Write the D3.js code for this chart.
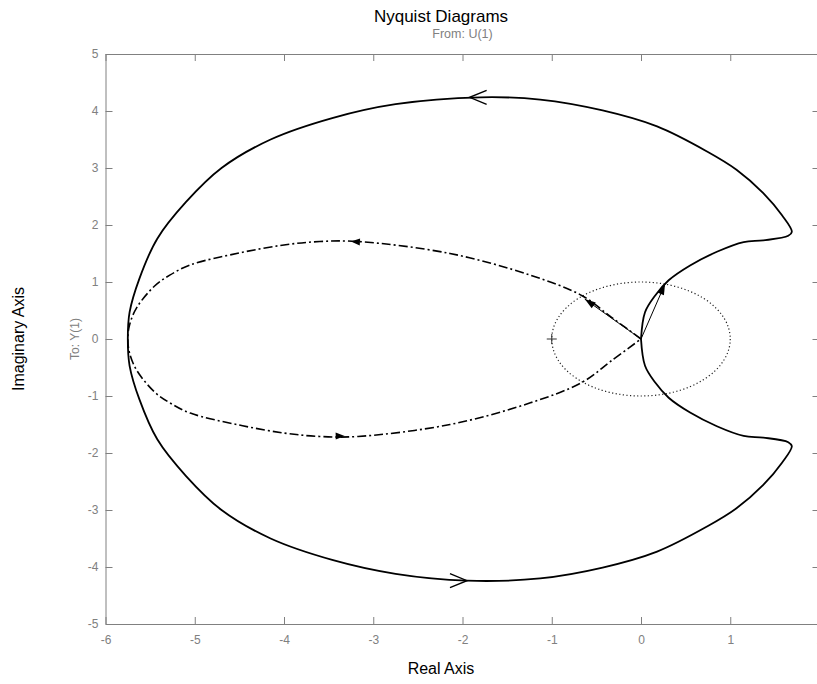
<!DOCTYPE html>
<html><head><meta charset="utf-8">
<script src="https://cdn.jsdelivr.net/npm/d3@7"></script>
<style>body{margin:0;background:#fff} svg{display:block}</style>
</head><body>
<svg id="chart" width="817" height="684"></svg>
<script>
// ---- data ----
const xTicks = [-6,-5,-4,-3,-2,-1,0,1,2];
const yTicks = [-5,-4,-3,-2,-1,0,1,2,3,4,5];
const xDomain = [-6, 2];
const yDomain = [-5, 5];

// solid Nyquist branch, in traversal order
const solidRe = [0, 0.045, 0.157, 0.31, 0.55, 0.85, 1.15, 1.37, 1.65, 1.69, 1.58, 1.37, 1.07, 0.74, 0.18, -0.43, -1.13, -1.80, -2.75, -3.45, -4.15, -4.70, -5.10, -5.42, -5.62, -5.73, -5.75,
                 -5.73, -5.62, -5.42, -5.10, -4.70, -4.15, -3.45, -2.75, -1.95, -1.13, -0.43, 0.18, 0.74, 1.07, 1.37, 1.58, 1.69, 1.65, 1.37, 1.15, 0.85, 0.55, 0.31, 0.157, 0.045, 0];
const solidIm = [0, 0.47, 0.76, 1.03, 1.29, 1.53, 1.70, 1.73, 1.81, 1.88, 2.17, 2.56, 2.97, 3.29, 3.73, 4.01, 4.20, 4.24, 4.12, 3.88, 3.50, 3.00, 2.40, 1.76, 1.06, 0.47, 0,
                 -0.47, -1.06, -1.76, -2.40, -3.00, -3.50, -3.88, -4.12, -4.24, -4.20, -4.01, -3.73, -3.29, -2.97, -2.56, -2.17, -1.88, -1.81, -1.73, -1.70, -1.53, -1.29, -1.03, -0.76, -0.47, 0];

// dash-dot Nyquist branch, in traversal order
const dashRe = [0, -0.33, -0.66, -1.24, -2.14, -3.17, -3.60, -4.00, -4.50, -5.05, -5.28, -5.45, -5.65, -5.73, -5.75,
                -5.73, -5.65, -5.45, -5.28, -5.05, -4.50, -4.00, -3.60, -3.17, -2.14, -1.24, -0.66, -0.33, 0];
const dashIm = [0, 0.38, 0.76, 1.12, 1.50, 1.71, 1.71, 1.65, 1.51, 1.30, 1.12, 0.93, 0.55, 0.25, 0,
                -0.25, -0.55, -0.93, -1.12, -1.30, -1.51, -1.65, -1.71, -1.71, -1.50, -1.12, -0.76, -0.38, 0];

// arrow positions: tip and a point behind it
const solidArrowTip  = [[-1.92, 4.24], [-1.95, -4.24]];
const solidArrowTail = [[-1.40, 4.24], [-2.45, -4.24]];
const dashArrowTip   = [[-3.25, 1.71], [-3.32, -1.70]];
const dashArrowTail  = [[-2.90, 1.68], [-3.70, -1.71]];
// vectors from the origin
const vectorTips = [[0.27, 0.97], [-0.63, 0.70]];
const criticalPoint = [-1, 0];
const unitRadius = 1;

// ---- drawing ----
const svg = d3.select("#chart");
const FONT = "'Liberation Sans', Arial, Helvetica, sans-serif";
const GRAY = "#808080";
const x = d3.scaleLinear().domain(xDomain).range([105.5, 819.5]);
const y = d3.scaleLinear().domain(yDomain).range([624, 54]);
const [L, R] = x.range(), [B, T] = y.range();

const fmt = d => String(d);
function styleAxis(g){
  g.selectAll("path.domain").attr("stroke", GRAY).attr("stroke-width", 1);
  g.selectAll(".tick line").attr("stroke", GRAY);
  g.selectAll(".tick text").attr("fill", GRAY).attr("font-family", FONT).attr("font-size", 12);
}
svg.append("g").attr("transform", `translate(0,${B})`)
  .call(d3.axisBottom(x).tickValues(xTicks).tickFormat(fmt).tickSize(-7).tickSizeOuter(0).tickPadding(11)).call(styleAxis);
svg.append("g").attr("transform", `translate(0,${T})`)
  .call(d3.axisTop(x).tickValues(xTicks).tickFormat("").tickSize(-7).tickSizeOuter(0)).call(styleAxis);
svg.append("g").attr("transform", `translate(${L},0)`)
  .call(d3.axisLeft(y).tickValues(yTicks).tickFormat(fmt).tickSize(-7).tickSizeOuter(0).tickPadding(7)).call(styleAxis);
svg.append("g").attr("transform", `translate(${R},0)`)
  .call(d3.axisRight(y).tickValues(yTicks).tickFormat("").tickSize(-7).tickSizeOuter(0)).call(styleAxis);

// unit circle (dotted)
svg.append("ellipse")
  .attr("cx", x(0)).attr("cy", y(0))
  .attr("rx", x(unitRadius) - x(0)).attr("ry", y(0) - y(unitRadius))
  .attr("fill", "none").attr("stroke", "#222").attr("stroke-width", 1.2)
  .attr("stroke-dasharray", "1.2,2.4");

// critical point marker
const cp = [x(criticalPoint[0]), y(criticalPoint[1])];
svg.append("path").attr("d", `M${cp[0]-5},${cp[1]}H${cp[0]+5}M${cp[0]},${cp[1]-5}V${cp[1]+5}`)
  .attr("stroke", "#333").attr("stroke-width", 1);

const line = d3.line().x(d => x(d[0])).y(d => y(d[1])).curve(d3.curveCatmullRom.alpha(0.5));
const solidPts = solidRe.map((v, i) => [v, solidIm[i]]);
const dashPts  = dashRe.map((v, i) => [v, dashIm[i]]);

svg.append("path").attr("d", line(dashPts)).attr("fill", "none")
  .attr("stroke", "#000").attr("stroke-width", 1.6).attr("stroke-dasharray", "9,3,2,3");
svg.append("path").attr("d", line(solidPts)).attr("fill", "none")
  .attr("stroke", "#000").attr("stroke-width", 1.8).attr("stroke-linejoin", "round");

function filledHead(tip, tail, len, half){
  const tx = x(tip[0]), ty = y(tip[1]);
  const a = Math.atan2(ty - y(tail[1]), tx - x(tail[0]));
  const bx = tx - len*Math.cos(a), by = ty - len*Math.sin(a);
  const px = -Math.sin(a)*half, py = Math.cos(a)*half;
  return `M${tx},${ty}L${bx+px},${by+py}L${bx-px},${by-py}Z`;
}
function openHead(tip, tail, len, half){
  const tx = x(tip[0]), ty = y(tip[1]);
  const a = Math.atan2(ty - y(tail[1]), tx - x(tail[0]));
  const bx = tx - len*Math.cos(a), by = ty - len*Math.sin(a);
  const px = -Math.sin(a)*half, py = Math.cos(a)*half;
  return `M${bx+px},${by+py}L${tx},${ty}L${bx-px},${by-py}`;
}
vectorTips.forEach(t => {
  svg.append("line").attr("x1", x(0)).attr("y1", y(0)).attr("x2", x(t[0])).attr("y2", y(t[1]))
    .attr("stroke", "#000").attr("stroke-width", 1);
  svg.append("path").attr("d", filledHead(t, [0,0], 11, 3.5)).attr("fill", "#000");
});
solidArrowTip.forEach((t, i) => {
  svg.append("path").attr("d", openHead(t, solidArrowTail[i], 17, 7))
    .attr("fill", "none").attr("stroke", "#000").attr("stroke-width", 1.4);
});
dashArrowTip.forEach((t, i) => {
  svg.append("path").attr("d", filledHead(t, dashArrowTail[i], 9, 3.5)).attr("fill", "#000");
});

// titles and labels
const cx = (L + R) / 2;
svg.append("text").attr("x", 441).attr("y", 22).attr("text-anchor", "middle")
  .attr("font-family", FONT).attr("font-size", 17).attr("fill", "#000").text("Nyquist Diagrams");
svg.append("text").attr("x", cx).attr("y", 38).attr("text-anchor", "middle")
  .attr("font-family", FONT).attr("font-size", 12.5).attr("fill", GRAY).text("From: U(1)");
svg.append("text").attr("x", 441).attr("y", 674).attr("text-anchor", "middle")
  .attr("font-family", FONT).attr("font-size", 16).attr("fill", "#000").text("Real Axis");
svg.append("text").attr("transform", `translate(24,${(T+B)/2}) rotate(-90)`).attr("text-anchor", "middle")
  .attr("font-family", FONT).attr("font-size", 16).attr("fill", "#000").text("Imaginary Axis");
svg.append("text").attr("transform", `translate(79,${(T+B)/2}) rotate(-90)`).attr("text-anchor", "middle")
  .attr("font-family", FONT).attr("font-size", 12).attr("fill", GRAY).text("To: Y(1)");
</script>
</body></html>
